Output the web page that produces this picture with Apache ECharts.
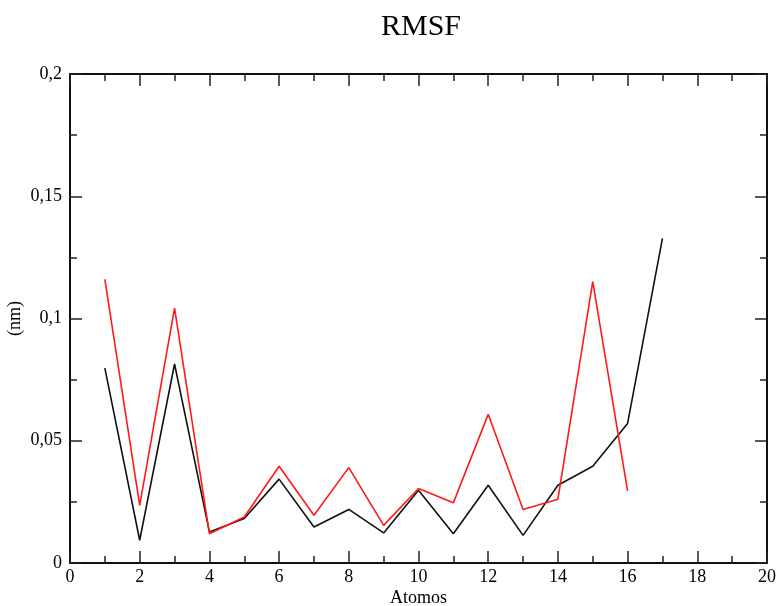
<!DOCTYPE html>
<html>
<head>
<meta charset="utf-8">
<script src="https://cdn.jsdelivr.net/npm/echarts@6/dist/echarts.min.js"></script>
<style>
html,body{margin:0;padding:0;background:#fff;}
#chart{width:779px;height:606px;}
</style>
</head>
<body>
<div id="chart"></div>
<script>
// RMSF per atom (nm), two runs
const atomsBlack = [1, 2, 3, 4, 5, 6, 7, 8, 9, 10, 11, 12, 13, 14, 15, 16, 17];
const rmsfBlack = [0.0797, 0.0093, 0.0814, 0.0127, 0.0182, 0.0343, 0.0147, 0.0219, 0.0123, 0.0298, 0.0120, 0.0318, 0.0113, 0.0318, 0.0396, 0.0571, 0.1328];
const atomsRed = [1, 2, 3, 4, 5, 6, 7, 8, 9, 10, 11, 12, 13, 14, 15, 16];
const rmsfRed = [0.1160, 0.0236, 0.1042, 0.0120, 0.0188, 0.0396, 0.0195, 0.0390, 0.0154, 0.0305, 0.0246, 0.0608, 0.0219, 0.0261, 0.1151, 0.0295];

const font = '"Liberation Serif", "DejaVu Serif", serif';
const comma = v => String(+v.toFixed(3)).replace('.', ',');

const pairs = (xs, ys) => xs.map((x, i) => [x, ys[i]]);

const tickStyle = { color: '#222', width: 1.5 };
const frameAxis = {
  axisLine: { show: true, onZero: false, lineStyle: { color: '#111', width: 2 } },
  splitLine: { show: false },
  axisTick: { show: true, inside: true, length: 12, lineStyle: tickStyle },
  minorTick: { show: true, splitNumber: 2, length: 7, lineStyle: tickStyle }
};

const chart = echarts.init(document.getElementById('chart'));
chart.setOption({
  animation: false,
  backgroundColor: '#fff',
  title: {
    text: 'RMSF',
    left: 416, top: 7, textAlign: 'center',
    textStyle: { fontFamily: font, fontSize: 30, fontWeight: 'normal', color: '#000' }
  },
  grid: { left: 70, right: 12, top: 74, bottom: 43, containLabel: false, outerBoundsMode: 'none' },
  xAxis: [
    Object.assign({}, frameAxis, {
      type: 'value', min: 0, max: 20, interval: 2, position: 'bottom',
      name: 'Atomos', nameLocation: 'middle', nameGap: 26, nameMoveOverlap: false,
      nameTextStyle: { fontFamily: font, fontSize: 18, color: '#000' },
      axisLabel: { fontFamily: font, fontSize: 18, color: '#000', margin: 5 }
    }),
    Object.assign({}, frameAxis, {
      type: 'value', min: 0, max: 20, interval: 2, position: 'top',
      axisLabel: { show: false }
    })
  ],
  yAxis: [
    Object.assign({}, frameAxis, {
      type: 'value', min: 0, max: 0.2, interval: 0.05, position: 'left',
      name: '(nm)', nameLocation: 'middle', nameGap: 46, nameRotate: 90, nameMoveOverlap: false,
      nameTextStyle: { fontFamily: font, fontSize: 18, color: '#000' },
      axisLabel: { fontFamily: font, fontSize: 18, color: '#000', margin: 8, formatter: comma }
    }),
    Object.assign({}, frameAxis, {
      type: 'value', min: 0, max: 0.2, interval: 0.05, position: 'right',
      axisLabel: { show: false }
    })
  ],
  series: [
    {
      type: 'line', xAxisIndex: 0, yAxisIndex: 0,
      data: pairs(atomsBlack, rmsfBlack),
      showSymbol: false, symbol: 'none',
      lineStyle: { color: '#111', width: 1.6 }
    },
    {
      type: 'line', xAxisIndex: 0, yAxisIndex: 0,
      data: pairs(atomsRed, rmsfRed),
      showSymbol: false, symbol: 'none',
      lineStyle: { color: '#ff1a1a', width: 1.6 }
    }
  ]
});
</script>
</body>
</html>
